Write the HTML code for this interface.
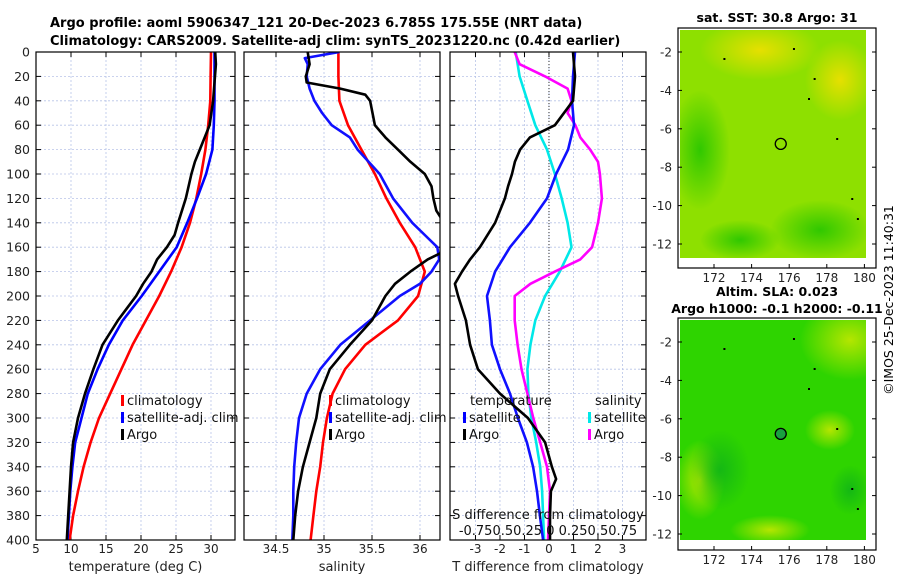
<!DOCTYPE html>
<html><head><meta charset="utf-8"><style>
body{margin:0;background:#fff;}
svg{display:block;font-family:"DejaVu Sans","Liberation Sans",sans-serif;}
</style></head><body>
<svg id="s" width="900" height="580" viewBox="0 0 900 580" xmlns="http://www.w3.org/2000/svg">
<defs>
<radialGradient id="g1a" cx="0.5" cy="0.5" r="0.5"><stop offset="0" stop-color="#e6e000"/><stop offset="1" stop-color="#e6e000" stop-opacity="0"/></radialGradient>
<radialGradient id="g1b" cx="0.5" cy="0.5" r="0.5"><stop offset="0" stop-color="#30c800"/><stop offset="1" stop-color="#30c800" stop-opacity="0"/></radialGradient>
<radialGradient id="g2a" cx="0.5" cy="0.5" r="0.5"><stop offset="0" stop-color="#b4e600"/><stop offset="1" stop-color="#b4e600" stop-opacity="0"/></radialGradient>
<radialGradient id="g2b" cx="0.5" cy="0.5" r="0.5"><stop offset="0" stop-color="#14b814"/><stop offset="1" stop-color="#14b814" stop-opacity="0"/></radialGradient>
</defs>
<g font-weight="bold" font-size="13">
<text x="50" y="27">Argo profile: aoml 5906347_121 20-Dec-2023 6.785S 175.55E (NRT data)</text>
<text x="50" y="45">Climatology: CARS2009. Satellite-adj clim: synTS_20231220.nc (0.42d earlier)</text>
</g>
<g id="plots"></g>
<g id="maps"></g>
<text x="893" y="300" font-size="12.5" text-anchor="middle" transform="rotate(-90 893 300)">©IMOS 25-Dec-2023 11:40:31</text>
</svg>
<script>
// depths shared by all profiles
const depths=[0,20,40,60,80,100,120,140,160,180,200,220,240,260,280,300,320,340,360,380,400];
const tempClim=[30.0,29.95,29.9,29.6,29.2,28.6,27.9,27.0,25.8,24.3,22.6,20.7,18.8,17.2,15.6,14.0,12.8,11.8,11.0,10.3,9.8];
const tempSat=[30.5,30.5,30.5,30.4,30.2,29.3,28.0,26.6,25.1,22.6,20.1,17.4,15.4,13.8,12.4,11.5,10.6,10.2,9.9,9.7,9.5];
const argoDepths=[0,10,40,60,80,90,100,120,140,150,160,170,180,190,200,220,240,260,280,300,320,340,360,380,400];
const tempArgo=[30.6,30.7,30.3,29.8,28.4,27.7,27.2,26.4,25.3,24.8,23.7,22.3,21.5,20.3,19.3,16.7,14.5,13.2,12.0,11.0,10.3,10.0,9.8,9.6,9.4];
const salClim=[35.15,35.15,35.16,35.25,35.39,35.53,35.65,35.79,35.95,36.05,35.98,35.77,35.43,35.22,35.09,35.03,34.99,34.96,34.92,34.89,34.86];
const salSatDepths=[0,5,10,20,30,40,50,60,70,80,100,120,140,150,160,170,180,190,200,220,240,260,280,300,320,340,360,380,400];
const salSat=[35.16,34.8,34.83,34.82,34.85,34.9,34.98,35.08,35.27,35.35,35.58,35.72,35.92,36.05,36.18,36.2,36.12,36.0,35.79,35.48,35.17,34.96,34.82,34.74,34.71,34.69,34.68,34.68,34.67];
const salArgoDepths=[0,10,20,25,30,35,40,60,70,80,90,100,110,120,130,135,150,165,170,180,190,200,220,240,260,280,300,320,340,360,380,400];
const salArgo=[34.83,34.85,34.81,34.82,35.17,35.43,35.48,35.53,35.64,35.77,35.9,36.05,36.12,36.14,36.17,36.21,36.35,36.21,36.08,35.9,35.74,35.64,35.5,35.27,35.06,34.96,34.92,34.85,34.78,34.73,34.7,34.68];
const dTsat=[1.06,0.98,0.94,1.02,0.78,0.29,-0.08,-0.78,-1.59,-2.2,-2.53,-2.41,-2.33,-2.0,-1.59,-1.27,-0.9,-0.65,-0.49,-0.37,-0.24];
const dTargoDepths=[0,20,40,60,70,80,90,100,110,120,140,160,170,180,190,200,220,240,260,280,300,320,340,350,360,380,400];
const dTargo=[0.98,1.06,0.98,0.24,-0.78,-1.18,-1.39,-1.51,-1.67,-1.8,-2.2,-2.82,-3.22,-3.55,-3.84,-3.71,-3.39,-3.22,-2.9,-2.0,-0.86,-0.16,0.12,0.29,0.08,0.04,0.04];
const dSsat=[-0.34,-0.3,-0.22,-0.14,-0.02,0.06,0.13,0.19,0.23,0.11,-0.04,-0.14,-0.19,-0.22,-0.21,-0.18,-0.13,-0.09,-0.07,-0.06,-0.05];
const dSargoDepths=[0,10,20,30,40,50,60,70,80,90,100,120,140,160,170,180,190,200,220,240,260,280,300,320,340,360,380,400];
const dSargo=[-0.35,-0.3,-0.04,0.19,0.23,0.19,0.27,0.32,0.42,0.5,0.52,0.54,0.5,0.44,0.32,0.06,-0.19,-0.35,-0.35,-0.32,-0.28,-0.22,-0.16,-0.09,-0.02,0.01,0,-0.01];
const depthTicks=[0,20,40,60,80,100,120,140,160,180,200,220,240,260,280,300,320,340,360,380,400];
const tempTicks=[5,10,15,20,25,30];
const salTicks=[34.5,35,35.5,36];
const dTTicks=[-3,-2,-1,0,1,2,3];
const latTicks=[-2,-4,-6,-8,-10,-12];
const lonTicks=[172,174,176,178,180];

const NS='http://www.w3.org/2000/svg';
function mk(parent,tag,attrs,text){const e=document.createElementNS(NS,tag);for(const k in attrs)e.setAttribute(k,attrs[k]);if(text!==undefined)e.textContent=text;parent.appendChild(e);return e;}
const Y0=52,Y1=540;
const yD=d=>Y0+(d/400)*(Y1-Y0);
const plots=document.getElementById('plots');
const panels=[
 {name:'temperature',x0:36,x1:235,v0:5,v1:33.43,ticks:tempTicks,label:'temperature (deg C)'},
 {name:'salinity',x0:244,x1:440,v0:34.1667,v1:36.2083,ticks:salTicks,label:'salinity'},
 {name:'difference',x0:450,x1:646,v0:-4.04,v1:3.96,ticks:dTTicks,label:'T difference from climatology'}];
panels.forEach((p,pi)=>{
 p.sx=v=>p.x0+(v-p.v0)/(p.v1-p.v0)*(p.x1-p.x0);
 const g=mk(plots,'g',{});
 
 
 const cid='clip'+pi;
 const cp=mk(g,'clipPath',{id:cid});mk(cp,'rect',{x:p.x0,y:Y0,width:p.x1-p.x0,height:Y1-Y0});
 depthTicks.forEach(d=>{mk(g,'line',{x1:p.x0,x2:p.x1,y1:yD(d),y2:yD(d),stroke:'#b8c4e8','stroke-width':0.8,'stroke-dasharray':'2,2'});
  mk(g,'line',{x1:p.x0,x2:p.x0+5,y1:yD(d),y2:yD(d),stroke:'#000'});mk(g,'line',{x1:p.x1-5,x2:p.x1,y1:yD(d),y2:yD(d),stroke:'#000'});
  if(pi===0){const t=mk(g,'text',{x:p.x0-6,y:yD(d)+4.5,'font-size':12.5,'text-anchor':'end',fill:'#222'},String(d));}});
 p.ticks.forEach(v=>{const x=p.sx(v);
  mk(g,'line',{x1:x,x2:x,y1:Y0,y2:Y1,stroke:'#b8c4e8','stroke-width':0.8,'stroke-dasharray':'2,2'});
  mk(g,'line',{x1:x,x2:x,y1:Y1,y2:Y1-5,stroke:'#000'});mk(g,'line',{x1:x,x2:x,y1:Y0,y2:Y0+5,stroke:'#000'});
  const t=mk(g,'text',{x:x,y:553,'font-size':12,'text-anchor':'middle',fill:'#222'},String(v));
  });
 const lab=mk(g,'text',{x:(p.x0+p.x1)/2,y:571,'font-size':13,'text-anchor':'middle',fill:'#222'},p.label);
 
 p.g=g;p.clip='url(#'+cid+')';
});
function line(p,ds,vs,color,name,sc){const f=sc||p.sx;const pts=ds.map((d,i)=>f(vs[i]).toFixed(1)+','+yD(d).toFixed(1)).join(' ');
 const e=mk(p.g,'polyline',{points:pts,fill:'none',stroke:color,'stroke-width':2.6,'stroke-linejoin':'round','clip-path':p.clip});
 }
const P=panels;
mk(P[2].g,'line',{x1:P[2].sx(0),x2:P[2].sx(0),y1:Y0,y2:Y1,stroke:'#333','stroke-width':1,'stroke-dasharray':'1,2'});
line(P[0],depths,tempClim,'#ff0000','temp-climatology-line');
line(P[0],depths,tempSat,'#0000ff','temp-satellite-line');
line(P[0],argoDepths,tempArgo,'#000','temp-argo-line');
line(P[1],depths,salClim,'#ff0000','sal-climatology-line');
line(P[1],salSatDepths,salSat,'#1010ff','sal-satellite-line');
line(P[1],salArgoDepths,salArgo,'#000','sal-argo-line');
const sS=v=>P[2].sx(v*4);
line(P[2],depths,dSsat,'#00e8e8','sdiff-satellite-line',sS);
line(P[2],dSargoDepths,dSargo,'#ff00ff','sdiff-argo-line',sS);
line(P[2],depths,dTsat,'#1010ff','tdiff-satellite-line');
line(P[2],dTargoDepths,dTargo,'#000','tdiff-argo-line');
panels.forEach(p=>{const r=mk(p.g,'rect',{x:p.x0,y:Y0,width:p.x1-p.x0,height:Y1-Y0,fill:'none',stroke:'#000','stroke-width':1.2});});
function leg(g,x,y,c,txt){const e=mk(g,'g',{});
 mk(e,'rect',{x:x,y:y-10,width:3,height:11,fill:c});mk(e,'text',{x:x+6,y:y,'font-size':13,fill:'#111'},txt);}
[[P[0].g,121],[P[1].g,329]].forEach(([g,x])=>{leg(g,x,405,'#ff0000','climatology');leg(g,x,422,'#0000ff','satellite-adj. clim');leg(g,x,439,'#000','Argo');});
const g3=P[2].g;
mk(g3,'text',{x:470,y:405,'font-size':13,fill:'#111'},'temperature');
mk(g3,'text',{x:595,y:405,'font-size':13,fill:'#111'},'salinity');
leg(g3,463,422,'#0000ff','satellite');leg(g3,463,439,'#000','Argo');
leg(g3,588,422,'#00e8e8','satellite');leg(g3,588,439,'#ff00ff','Argo');
mk(g3,'text',{x:548,y:519,'font-size':13,'text-anchor':'middle',fill:'#111'},'S difference from climatology');
mk(g3,'text',{x:548,y:535,'font-size':13,'text-anchor':'middle',fill:'#111'},'-0.750.50.25 0  0.250.50.75');

// maps
const maps=document.getElementById('maps');
function map(y0,y1,latTop,title,base,patches,name){
 const x0=678,x1=876;const g=mk(maps,'g',{});
 const sxl=l=>714+(l-172)*18.8;const syl=a=>latTop+(-2-a)*19.2;
 const cid='mclip'+name;const cp=mk(g,'clipPath',{id:cid});mk(cp,'rect',{x:x0+2,y:y0+2,width:186,height:y1-y0-12});
 const inner=mk(g,'g',{'clip-path':'url(#'+cid+')'});
 mk(inner,'rect',{x:x0+2,y:y0+2,width:186,height:y1-y0-12,fill:base});
 patches.forEach(q=>mk(inner,'ellipse',{cx:q[0],cy:q[1],rx:q[2],ry:q[3],fill:'url(#'+q[4]+')'}));
 const c=mk(g,'circle',{cx:sxl(175.55),cy:syl(-6.785),r:5.5,fill:name==='sla-map'?'#1aa040':'none',stroke:'#000','stroke-width':1.3});
 [[172.5,1],[177,3],[178.5,5],[179.3,8],[179.6,9],[176.2,0.5],[177.3,2]].forEach(i=>mk(g,'rect',{x:sxl(i[0]),y:y0+10+i[1]*20,width:2,height:2,fill:'#000'}));
 mk(g,'rect',{x:x0,y:y0,width:x1-x0,height:y1-y0,fill:'none',stroke:'#000','stroke-width':1.2});
 latTicks.forEach(a=>{const y=syl(a);mk(g,'line',{x1:x0,x2:x0+4,y1:y,y2:y,stroke:'#000'});mk(g,'line',{x1:x1-4,x2:x1,y1:y,y2:y,stroke:'#000'});
  const t=mk(g,'text',{x:x0-6,y:y+4.5,'font-size':12,'text-anchor':'end',fill:'#222'},String(a));});
 lonTicks.forEach(l=>{const x=sxl(l);mk(g,'line',{x1:x,x2:x,y1:y1,y2:y1-4,stroke:'#000'});
  const t=mk(g,'text',{x:x,y:y1+14,'font-size':12,'text-anchor':'middle',fill:'#222'},String(l));});
 title.forEach(t=>mk(g,'text',{x:777,y:t[1],'font-size':12.5,'font-weight':'bold','text-anchor':'middle'},t[0]));
}
map(28,268,52,[['sat. SST: 30.8 Argo: 31',22]],'#8ee000',[[760,50,60,30,'g1a'],[840,80,35,40,'g1a'],[700,150,30,60,'g1b'],[820,230,50,30,'g1b'],[740,240,40,20,'g1b']],'sst-map');
map(318,550,342,[['Altim. SLA: 0.023',296],['Argo h1000: -0.1 h2000: -0.11',313]],'#2ed400',[[850,340,50,40,'g2a'],[700,480,25,40,'g2a'],[830,430,25,20,'g2a'],[770,530,40,15,'g2a'],[720,470,30,40,'g2b'],[850,490,20,25,'g2b']],'sla-map');
</script>
</body></html>
